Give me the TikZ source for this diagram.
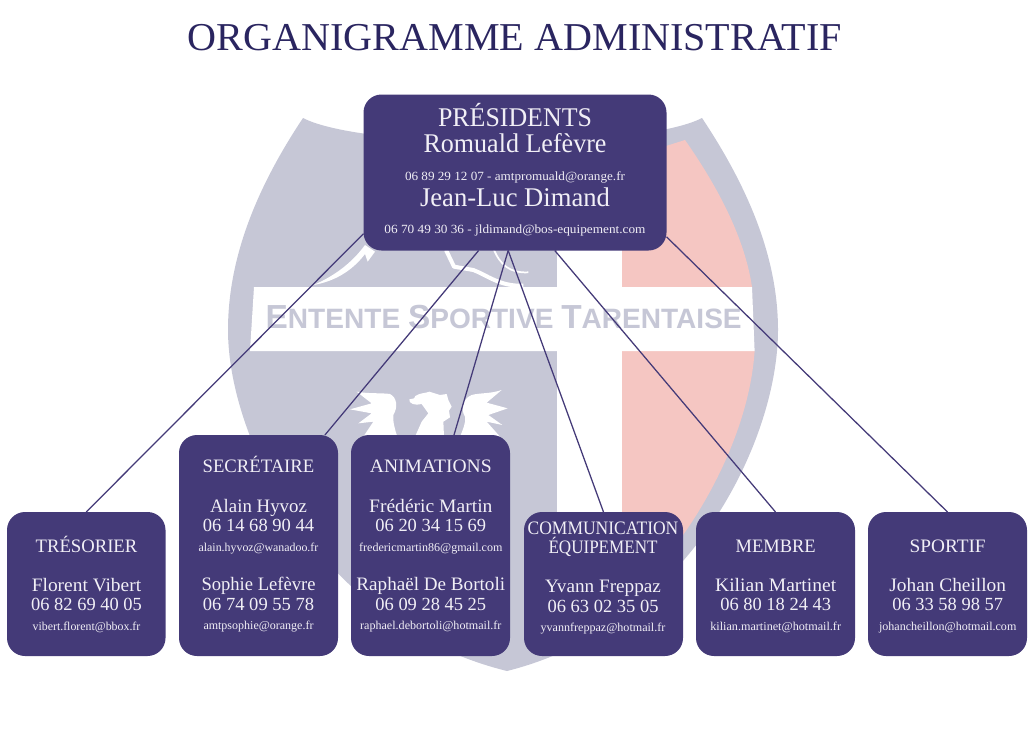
\documentclass[tikz,border=0pt]{standalone}
\usepackage{graphicx}
\usepackage{fontspec}
\setmainfont{Liberation Serif}
\newfontfamily\logofont{Liberation Sans}
\definecolor{boxc}{HTML}{443A78}
\definecolor{titlec}{HTML}{2A2560}
\definecolor{shieldc}{HTML}{C6C7D6}
\definecolor{pinkc}{HTML}{F5C6C2}
\definecolor{textc}{HTML}{F1EFF6}
\newcommand{\fitT}[3]{\resizebox{#1\dimexpr0.75pt\relax}{\height}{\fontsize{#2\dimexpr0.75pt\relax}{#2\dimexpr0.75pt\relax}\selectfont #3}}
\newcommand{\tx}[6]{\node[lbl] (#1) at (#2,#3) {\fitT{#4}{#5}{#6}};}
\newcommand{\bx}[5]{\node[card,minimum width={(#4-#2)*0.75pt},minimum height={(#5-#3)*0.75pt}] (#1) at ({(#2+#4)/2},{(#3+#5)/2}) {};}
\tikzset{
  lbl/.style={anchor=base,inner sep=0pt,outer sep=0pt,text=textc},
  card/.style={fill=boxc,rounded corners=13.5pt,inner sep=0pt,outer sep=0pt},
  link/.style={draw=boxc,line width=0.95pt},
}
\begin{document}
\begin{tikzpicture}[x=0.75pt,y=-0.75pt]
\useasboundingbox (0,0) rectangle (1030,728);
% shield
\fill[shieldc] (303,118) .. controls (255,190) and (228,260) .. (228,330)
  .. controls (228,440) and (320,625) .. (507,671)
  .. controls (690,625) and (778,440) .. (778,330)
  .. controls (778,260) and (750,190) .. (702,118)
  .. controls (640,150) and (365,150) .. (303,118) -- cycle;
\fill[white] (557,140) rectangle (622,640);
\fill[pinkc] (622,155) -- (666,146) -- (685,140) .. controls (720,190) and (745,240) .. (752,287) -- (622,287) -- cycle;
\fill[pinkc] (622,351) -- (754.6,351) .. controls (750,420) and (715,490) .. (683,535) -- (622,600) -- cycle;
\fill[white] (254,287) -- (752,287) -- (754.6,351) -- (250,351) -- cycle;
% crest motifs
\begin{scope}[shift={(310,240)},x=0.25pt,y=-0.25pt]
  \fill[white] (10,135) .. controls (70,110) and (125,70) .. (165,15) -- (195,35) -- (173,65) -- (165,42) .. controls (125,95) and (70,125) .. (10,135) -- cycle;
  \draw[white,line width=3pt,line join=round] (408,30) -- (432,80) -- (490,90) .. controls (530,105) and (570,140) .. (640,137);
  \draw[white,line width=1.3pt] (550,25) .. controls (570,75) and (600,100) .. (655,97);
\end{scope}
\begin{scope}[shift={(340,380)},x=0.25pt,y=-0.25pt]
  \fill[white] (50,35) .. controls (90,42) and (120,38) .. (150,42) .. controls (170,52) and (175,80) .. (160,105) .. controls (158,125) and (165,150) .. (172,170) -- (70,170) -- (100,125) -- (55,130) -- (95,100) -- (30,88) -- (95,70) -- cycle;
  \fill[white] (225,170) -- (245,125) -- (265,100) -- (245,72) .. controls (225,78) and (205,70) .. (208,58) .. controls (215,52) and (222,62) .. (226,48) .. controls (240,38) and (258,40) .. (268,35) -- (300,45) -- (320,42) -- (325,60) -- (335,80) -- (327,92) -- (330,112) -- (310,125) -- (312,170) -- cycle;
  \fill[white] (485,30) .. controls (450,42) and (420,38) .. (395,45) .. controls (370,55) and (360,85) .. (375,110) .. controls (378,130) and (368,150) .. (360,170) -- (480,170) -- (440,125) -- (487,135) -- (445,105) -- (503,85) -- (440,68) -- cycle;
\end{scope}
\node[anchor=base,inner sep=0pt,text=shieldc] (logo) at (503.7,328.3) {\resizebox{357pt}{\height}{\logofont\bfseries\fontsize{25pt}{25pt}\selectfont E\fontsize{21pt}{21pt}\selectfont NTENTE \fontsize{25pt}{25pt}\selectfont S\fontsize{21pt}{21pt}\selectfont PORTIVE \fontsize{25pt}{25pt}\selectfont T\fontsize{21pt}{21pt}\selectfont ARENTAISE}};
% title
\node[anchor=base,inner sep=0pt,text=titlec] (title) at (515,50) {\fitT{654}{39.5}{ORGANIGRAMME ADMINISTRATIF}};
% cards
\bx{pres}{363.5}{94.5}{666.5}{250.5}
\bx{tres}{7}{512}{165.5}{656}
\bx{secr}{179}{435}{338}{656}
\bx{anim}{351}{435}{510}{656}
\bx{comm}{524}{512}{683}{656}
\bx{memb}{696}{512}{855}{656}
\bx{spor}{868}{512}{1027}{656}
% connectors
\draw[link] (pres.202.5) -- (tres.north);
\draw[link] (pres.245.3) -- (secr.59.7);
\draw[link] (pres.265.3) -- (anim.78.5);
\draw[link] (pres.265.3) -- (comm.north);
\draw[link] (pres.297.3) -- (memb.north);
\draw[link] (pres.337.5) -- (spor.north);
% president
\tx{p1}{515}{126}{154}{27}{PRÉSIDENTS}
\tx{p2}{515}{152.7}{183}{27}{Romuald Lefèvre}
\tx{p3}{515}{180}{220}{12.5}{06 89 29 12 07 - amtpromuald@orange.fr}
\tx{p4}{515}{206.7}{190}{27}{Jean-Luc Dimand}
\tx{p5}{515}{233.3}{261}{12.5}{06 70 49 30 36 - jldimand@bos-equipement.com}
% tresorier
\tx{t1}{86.5}{552.7}{101.7}{19}{TRÉSORIER}
\tx{t2}{86.5}{591}{109.3}{19}{Florent Vibert}
\tx{t3}{86.5}{610.7}{110.7}{18.5}{06 82 69 40 05}
\tx{t4}{86.5}{630}{107.7}{12}{vibert.florent@bbox.fr}
% secretaire
\tx{s1}{258.5}{472.7}{111.7}{19}{SECRÉTAIRE}
\tx{s2}{258.5}{512}{96.7}{19}{Alain Hyvoz}
\tx{s3}{258.5}{531.7}{111.3}{18.5}{06 14 68 90 44}
\tx{s4}{258.5}{551}{119.7}{12}{alain.hyvoz@wanadoo.fr}
\tx{s5}{258.5}{590.7}{114}{19}{Sophie Lefèvre}
\tx{s6}{258.5}{610.3}{111.3}{18.5}{06 74 09 55 78}
\tx{s7}{258.5}{629.3}{110}{12}{amtpsophie@orange.fr}
% animations
\tx{a1}{430.8}{472.7}{121.7}{19}{ANIMATIONS}
\tx{a2}{430.8}{512}{123.3}{19}{Frédéric Martin}
\tx{a3}{430.8}{531.7}{110.7}{18.5}{06 20 34 15 69}
\tx{a4}{430.8}{551}{143.3}{12}{fredericmartin86@gmail.com}
\tx{a5}{430.8}{590.7}{148.7}{19}{Raphaël De Bortoli}
\tx{a6}{430.8}{610.3}{110.7}{18.5}{06 09 28 45 25}
\tx{a7}{430.8}{629.3}{141.3}{12}{raphael.debortoli@hotmail.fr}
% communication
\tx{c1}{603}{534}{150.7}{19}{COMMUNICATION}
\tx{c2}{603}{553.3}{109}{19}{ÉQUIPEMENT}
\tx{c3}{603}{592.7}{116}{19}{Yvann Freppaz}
\tx{c4}{603}{612}{111}{18.5}{06 63 02 35 05}
\tx{c5}{603}{631}{124.7}{12}{yvannfreppaz@hotmail.fr}
% membre
\tx{m1}{775.7}{552.7}{80}{19}{MEMBRE}
\tx{m2}{775.7}{591}{121}{19}{Kilian Martinet}
\tx{m3}{775.7}{610.7}{110.7}{18.5}{06 80 18 24 43}
\tx{m4}{775.7}{630}{130.7}{12}{kilian.martinet@hotmail.fr}
% sportif
\tx{o1}{947.7}{552.7}{76}{19}{SPORTIF}
\tx{o2}{947.7}{591}{116.7}{19}{Johan Cheillon}
\tx{o3}{947.7}{610.7}{110.7}{18.5}{06 33 58 98 57}
\tx{o4}{947.7}{630}{137.3}{12}{johancheillon@hotmail.com}
\end{tikzpicture}
\end{document}
